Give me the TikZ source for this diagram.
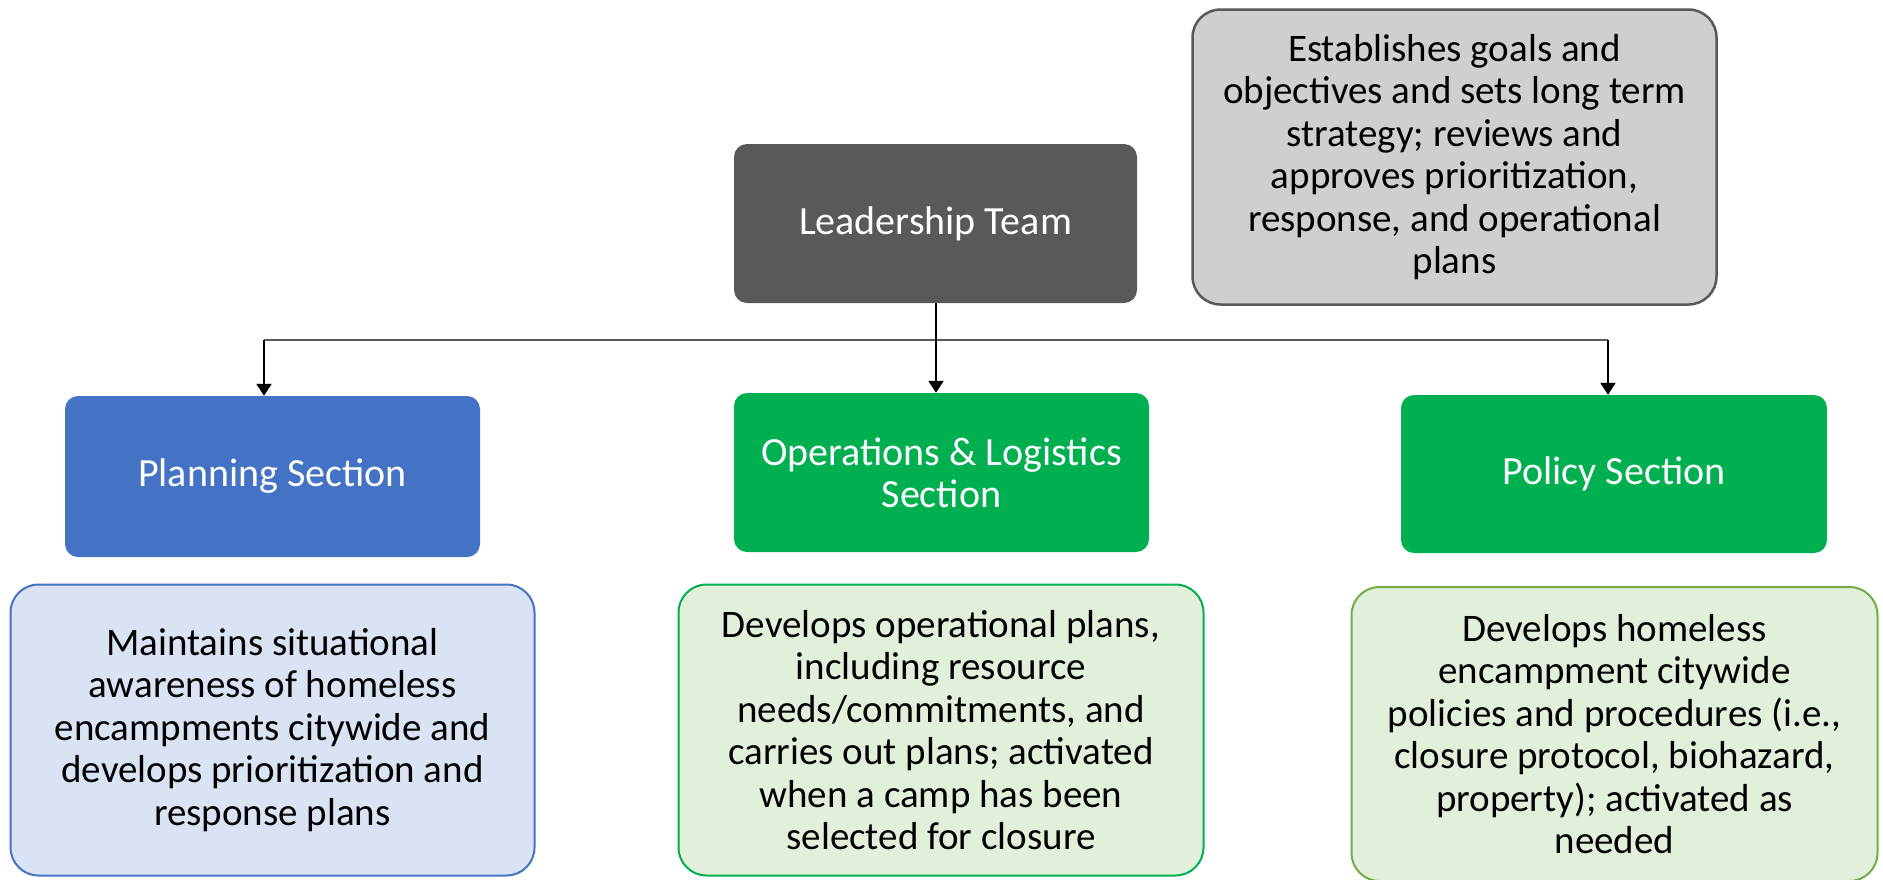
\documentclass[tikz,border=0pt]{standalone}
\usepackage{fontspec}
\setmainfont{Carlito}
\usetikzlibrary{arrows.meta}
\definecolor{leadgray}{HTML}{595959}
\definecolor{notegray}{HTML}{D0CECE}
\definecolor{planblue}{HTML}{4472C4}
\definecolor{secgreen}{HTML}{00B050}
\definecolor{lightblue}{HTML}{DAE3F3}
\definecolor{lightgreen}{HTML}{E2EFDA}
\definecolor{olivegreen}{HTML}{70AD47}
\tikzset{
  titlebox/.style={rounded corners=13pt, inner sep=0pt, align=center, text=white,
    font=\fontsize{40}{42}\selectfont},
  descbox/.style={rounded corners=28pt, inner sep=0pt, align=center, text=black,
    line width=2pt, font=\fontsize{39}{42.5}\selectfont},
  conn/.style={line width=2.2pt, black, -{Triangle[width=15pt,length=12pt]}},
  barline/.style={line width=2pt, leadgray},
}
\begin{document}
\begin{tikzpicture}[x=1pt,y=-1pt]
\useasboundingbox (0,0) rectangle (1883,879);
% title boxes
\node[titlebox, fill=leadgray, minimum width=403pt, minimum height=159pt] (lead) at (935.5,223.5) {Leadership Team};
\node[titlebox, fill=planblue, minimum width=415pt, minimum height=161pt] (plan) at (272.5,476.5) {Planning Section};
\node[titlebox, fill=secgreen, minimum width=415pt, minimum height=159pt] (ops) at (941.5,472.5) {Operations \& Logistics\\Section};
\node[titlebox, fill=secgreen, minimum width=426pt, minimum height=158pt] (pol) at (1614,474) {Policy Section};
% description boxes
\node[descbox, fill=notegray, draw=leadgray, line width=2.5pt, minimum width=524pt, minimum height=295pt] (goal) at (1454.5,157)
  {Establishes goals and\\objectives and sets long term\\strategy; reviews and\\approves prioritization,\\response, and operational\\plans};
\node[descbox, fill=lightblue, draw=planblue, minimum width=524pt, minimum height=291pt] (plandesc) at (272.5,730)
  {Maintains situational\\awareness of homeless\\encampments citywide and\\develops prioritization and\\response plans};
\node[descbox, fill=lightgreen, draw=secgreen, minimum width=525pt, minimum height=291pt] (opsdesc) at (941,730)
  {Develops operational plans,\\including resource\\needs/commitments, and\\carries out plans; activated\\when a camp has been\\selected for closure};
\node[descbox, fill=lightgreen, draw=olivegreen, minimum width=526pt, minimum height=294pt] (poldesc) at (1614.5,734)
  {Develops homeless\\encampment citywide\\policies and procedures (i.e.,\\closure protocol, biohazard,\\property); activated as\\needed};
% connectors
\coordinate (barL) at (264,340);
\coordinate (barR) at (1608,340);
\draw[barline] (barL) -- (barR);
\draw[conn] ([xshift=0.5pt]lead.south) -- ([xshift=-5.5pt]ops.north);
\draw[conn] (barL) -- (barL |- plan.north);
\draw[conn] (barR) -- (barR |- pol.north);
\end{tikzpicture}
\end{document}
